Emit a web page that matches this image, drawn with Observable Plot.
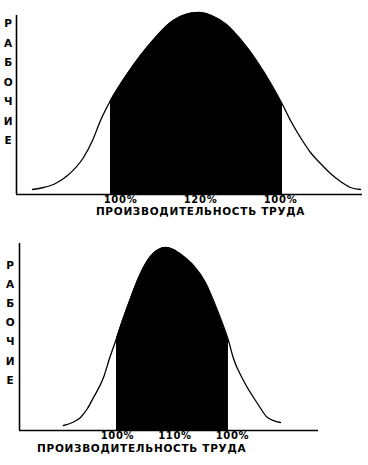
<!DOCTYPE html>
<html>
<head>
<meta charset="utf-8">
<script src="https://cdn.jsdelivr.net/npm/d3@7"></script>
<script src="https://cdn.jsdelivr.net/npm/@observablehq/plot@0.6"></script>
<style>
  html, body { margin: 0; padding: 0; background: #fff; }
  #chart { width: 368px; }
  #chart svg { display: block; }
  #chart svg text { font-family: "DejaVu Sans", sans-serif; font-weight: bold; fill: #000; }
  .lbl text { letter-spacing: 0.7px; }
</style>
</head>
<body>
<div id="chart"></div>
<script>
// ---- Top chart (peak at 120%) ----
const topCurveX = [78, 80.75, 83.75, 86.75, 90.75, 93, 95, 97.5, 101.25, 105, 108.75, 112.5, 116.25, 119.5, 122.75, 126.5, 130.25, 134, 137.75, 140.5, 142.5, 145, 147.5, 150, 152.5, 155, 157.5, 160];
const topCurveY = [5, 7, 11, 19, 37, 54, 74, 94, 118, 139, 157, 172, 180, 182, 179, 170, 154, 134, 110, 90, 74, 57, 42, 31, 21, 13, 7, 5];
const topShade = [97.5, 140.5];
const topTicks = [100, 120, 140];
const topTickLabels = ["100%", "120%", "100%"];

// ---- Bottom chart (peak at 110%) ----
const botCurveX = [90.61, 92.17, 93.57, 94.78, 95.83, 97.57, 98.61, 99.83, 100.87, 102.26, 104, 105.74, 107.13, 108.35, 109.74, 111.30, 113.22, 115.30, 117.04, 118.26, 119.30, 120.17, 121.91, 124.35, 126.09, 128.35];
const botCurveY = [5, 8, 13, 22, 33, 53, 72, 92, 110, 132, 157, 174, 181, 183, 181, 175, 165, 148, 125, 107, 90, 72, 50, 27, 13, 8];
const botShade = [99.83, 119.30];
const botTicks = [100, 110, 120];
const botTickLabels = ["100%", "110%", "100%"];

const yLetters = "Р\nА\nБ\nО\nЧ\nИ\nЕ";
const xTitle = "ПРОИЗВОДИТЕЛЬНОСТЬ ТРУДА";

function chart({cx, cy, shade, ticks, tickLabels, xDomain, yDomain, height, marginTop, marginBottom, marginLeft, marginRight, titleX, lettersDx, lettersDy, lettersLH, titleDy}) {
  const data = cx.map((x, i) => ({x, y: cy[i]}));
  const shaded = data.filter(d => d.x >= shade[0] - 1e-9 && d.x <= shade[1] + 1e-9);
  const lab = new Map(ticks.map((t, i) => [t, tickLabels[i]]));
  return Plot.plot({
    width: 368,
    height,
    marginTop, marginBottom, marginLeft, marginRight,
    className: "lbl",
    x: {domain: xDomain, axis: null},
    y: {domain: yDomain, axis: null},
    marks: [
      Plot.areaY(shaded, {x: "x", y: "y", fill: "#000", curve: "monotone-x"}),
      Plot.line(data, {x: "x", y: "y", stroke: "#000", strokeWidth: 1.3, curve: "monotone-x"}),
      Plot.ruleY([0], {stroke: "#000", strokeWidth: 1.6}),
      Plot.ruleX([xDomain[0]], {stroke: "#000", strokeWidth: 1.6}),
      Plot.axisX(ticks, {tickSize: 0, tickPadding: 1, tickFormat: d => lab.get(d), fontSize: 10, label: null}),
      Plot.text([xTitle], {x: [titleX], frameAnchor: "bottom", lineAnchor: "middle", dy: titleDy, fontSize: 10.5}),
      Plot.text([yLetters], {frameAnchor: "top-left", textAnchor: "middle", lineAnchor: "middle", dx: lettersDx, dy: lettersDy, lineHeight: lettersLH, fontSize: 10.5})
    ]
  });
}

const el = document.getElementById("chart");
el.append(chart({
  cx: topCurveX, cy: topCurveY, shade: topShade, ticks: topTicks, tickLabels: topTickLabels,
  xDomain: [74, 160.5], yDomain: [0, 179],
  height: 228, marginTop: 15, marginBottom: 34, marginLeft: 16, marginRight: 6,
  titleX: 120, lettersDx: -8, lettersDy: 64, lettersLH: 1.86, titleDy: 17
}));
el.append(chart({
  cx: botCurveX, cy: botCurveY, shade: botShade, ticks: botTicks, tickLabels: botTickLabels,
  xDomain: [82.96, 134.96], yDomain: [0, 187],
  height: 237, marginTop: 15, marginBottom: 35, marginLeft: 19, marginRight: 50,
  titleX: 104.2, lettersDx: -9, lettersDy: 76.5, lettersLH: 1.83, titleDy: 18
}));
</script>
</body>
</html>
